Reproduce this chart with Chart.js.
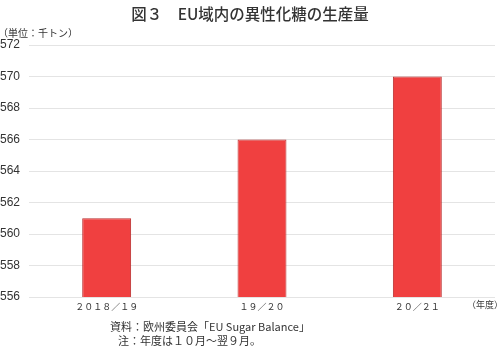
<!DOCTYPE html>
<html><head><meta charset="utf-8">
<script src="https://cdn.jsdelivr.net/npm/chart.js@4"></script>
<style>html,body{margin:0;padding:0;background:#fff}canvas{display:block}</style>
</head><body>
<canvas id="c" width="500" height="348"></canvas>
<script>
const categories = ['２０１８／１９', '１９／２０', '２０／２１'];
const production = [561, 566, 570];
const yMin = 556, yMax = 572, yStep = 2;
const titleText = '図３　EU域内の異性化糖の生産量';
const unitText = '（単位：千トン）';
const xUnitText = '（年度）';
const sourceText = '資料：欧州委員会「EU Sugar Balance」';
const noteText = '注：年度は１０月～翌９月。';

const jp = '"Noto Sans CJK JP", "Noto Sans", sans-serif';
const textPlugin = {
  id: 'texts',
  afterDraw(chart) {
    const ctx = chart.ctx;
    ctx.save();
    ctx.fillStyle = '#333';
    ctx.textBaseline = 'middle';
    ctx.font = '500 15.5px ' + jp;
    ctx.textAlign = 'center';
    ctx.fillText(titleText, 250, 14);
    ctx.font = '10px ' + jp;
    ctx.textAlign = 'left';
    ctx.fillText(unitText, -2, 33);
    ctx.font = '9px ' + jp;
    ctx.fillText(xUnitText, 467, 305);
    ctx.font = '11px ' + jp;
    ctx.fillText(sourceText, 110, 327);
    ctx.fillText(noteText, 118, 341);
    ctx.restore();
  }
};

new Chart(document.getElementById('c'), {
  type: 'bar',
  data: {
    labels: categories,
    datasets: [{
      data: production,
      backgroundColor: 'rgb(240,64,64)',
      borderColor: 'rgb(185,45,45)',
      borderWidth: 1,
      categoryPercentage: 1,
      barPercentage: 0.315
    }]
  },
  options: {
    responsive: false,
    animation: false,
    layout: { padding: { top: 45, right: 5, left: 0, bottom: 0 } },
    plugins: { legend: { display: false }, tooltip: { enabled: false }, title: { display: false } },
    scales: {
      x: {
        grid: { display: false, drawTicks: false },
        border: { display: false },
        ticks: { color: '#333', font: { family: jp, size: 9 }, padding: 4, maxRotation: 0 },
        afterFit(s) { s.height = 51; }
      },
      y: {
        min: yMin, max: yMax,
        grid: { color: '#e4e4e4', drawTicks: false },
        border: { display: false },
        ticks: { stepSize: yStep, color: '#333', font: { family: '"Liberation Sans Narrow", "Liberation Sans", sans-serif', size: 12 }, padding: 9 },
        afterFit(s) { s.width = 29; }
      }
    }
  },
  plugins: [textPlugin]
});
</script>
</body></html>
